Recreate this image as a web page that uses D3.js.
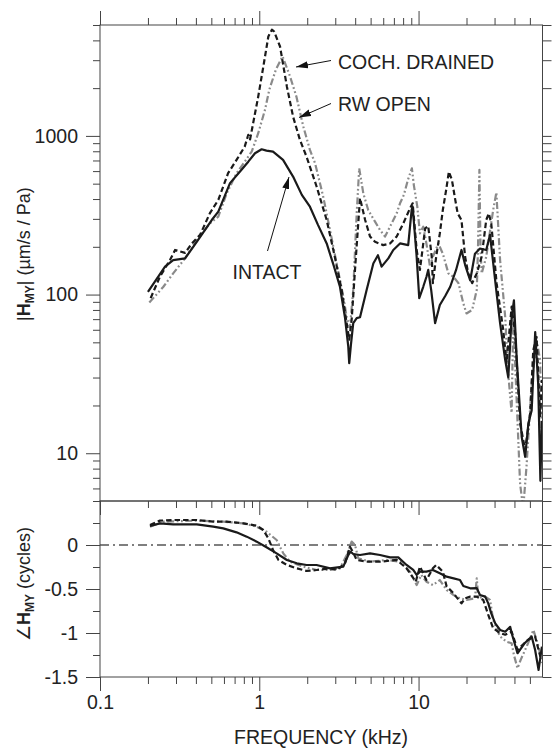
<!DOCTYPE html>
<html>
<head>
<meta charset="utf-8">
<script src="https://cdn.jsdelivr.net/npm/d3@7"></script>
<style>
  body { margin: 0; background: #fff; }
  svg { display: block; font-family: "Liberation Sans", Arial, sans-serif; }
</style>
</head>
<body>
<div id="chart"></div>
<script>
// Magnitude data: [frequency kHz, |H_MY| um/s/Pa]
const intactMag = [
  [0.2,104],[0.256,150],[0.288,165],[0.342,169],[0.405,215],[0.503,295],[0.553,333],[0.655,504],
  [0.757,596],[0.853,688],[0.94,778],[1.035,824],[1.11,808],[1.22,796],[1.41,706],[1.63,554],
  [1.85,425],[2.08,358],[2.34,274],[2.65,210],[2.94,151],[3.21,112],[3.45,72],[3.62,47],[3.67,37],
  [3.76,48],[3.89,66],[4.09,71],[4.29,72],[4.72,107],[5.2,157],[5.56,177],[5.86,150],[6.46,169],
  [6.94,191],[7.65,210],[8.61,205],[9.05,342],[9.18,359],[9.73,173],[10.1,95],[10.7,112],[11.2,129],
  [11.5,143],[12.0,107],[12.7,66],[13.6,86],[14.7,98],[15.8,112],[17.2,143],[18.6,191],[19.6,154],
  [21.1,123],[22.6,181],[24.3,195],[26.6,191],[28.1,238],[30.9,102],[32.5,66],[35,38.6],[36.6,30],
  [38.4,72],[39.7,92],[41.3,40],[44.4,12.7],[46.7,9.5],[48.9,15.4],[51.3,18.6],[54,58],[56.4,27],
  [58.2,6.7],[59.5,16]
];
const cochMag = [
  [0.208,95],[0.238,130],[0.275,165],[0.296,191],[0.318,187],[0.342,183],[0.377,210],[0.425,238],
  [0.49,326],[0.553,395],[0.637,582],[0.72,706],[0.81,856],[0.853,1015],[0.875,950],[0.985,1770],
  [1.06,2730],[1.14,4230],[1.2,4670],[1.24,4540],[1.35,3660],[1.49,2050],[1.63,1323],[1.8,944],
  [1.98,740],[2.29,480],[2.65,295],[2.98,173],[3.29,107],[3.49,72],[3.67,52],[3.8,69],[3.99,143],
  [4.29,405],[4.62,295],[4.96,232],[5.33,215],[6.0,205],[6.62,210],[7.29,232],[8.02,281],[8.84,350],
  [9.18,376],[9.73,191],[10.2,143],[11.0,261],[11.5,270],[12.1,173],[12.3,118],[12.9,173],[13.6,243],
  [14.2,341],[14.9,456],[15.5,595],[16.2,528],[17.0,395],[17.6,325],[18.6,295],[19.6,173],[20.5,136],
  [21.7,118],[23.2,136],[24.9,173],[26.6,295],[27.6,325],[28.6,281],[30.9,118],[34.0,60],[35.7,37],
  [38.4,84],[40.4,57],[43.4,15.4],[46.7,10.5],[50.2,17.9],[52.5,44.6],[55.1,54],[58,16.9],[59.5,29]
];
const rwMag = [
  [0.204,89],[0.25,112],[0.288,136],[0.342,169],[0.405,221],[0.49,281],[0.553,310],[0.624,434],
  [0.72,582],[0.81,688],[0.896,796],[0.985,1040],[1.086,1459],[1.155,1950],[1.27,2610],[1.4,3170],
  [1.56,2370],[1.71,1770],[1.89,1145],[2.08,816],[2.24,673],[2.52,414],[2.78,255],[3.06,157],
  [3.37,97],[3.54,72],[3.71,62],[3.89,107],[4.09,325],[4.24,625],[4.5,434],[4.83,341],[5.33,288],
  [5.73,255],[6.16,232],[6.62,268],[7.29,325],[7.65,376],[8.09,425],[8.57,528],[9.08,625],[9.34,490],
  [9.82,358],[10.2,243],[10.7,268],[11.2,210],[11.8,150],[12.3,173],[13.3,210],[14.2,181],[15.4,136],
  [16.6,129],[17.8,118],[19.1,88],[20.0,76],[21.7,80],[23.2,107],[23.6,191],[24.1,610],[24.5,191],
  [24.9,136],[26.6,173],[29.4,341],[30.8,440],[32.5,165],[35,72],[36.4,33.4],[38.4,18],[39.3,69],
  [40.8,29],[43.4,6.4],[45.4,4.5],[47.6,8.2],[51.3,27.5],[55.1,51.6],[58,38.6],[59.5,10.5]
];

// Phase data: [frequency kHz, cycles]
const intactPh = [
  [0.206,0.216],[0.238,0.246],[0.288,0.235],[0.405,0.235],[0.514,0.208],[0.594,0.189],[0.72,0.144],
  [0.834,0.095],[0.963,0.038],[1.11,-0.026],[1.285,-0.095],[1.49,-0.17],[1.72,-0.208],[1.98,-0.227],
  [2.29,-0.227],[2.78,-0.265],[3.37,-0.246],[3.62,-0.114],[3.74,-0.076],[3.89,-0.102],[4.29,-0.114],
  [4.96,-0.095],[5.73,-0.114],[6.62,-0.14],[7.46,-0.14],[8.41,-0.227],[9.26,-0.284],[9.73,-0.34],
  [10.2,-0.303],[11.2,-0.303],[12.3,-0.284],[13.6,-0.322],[15.0,-0.36],[16.6,-0.379],[18.2,-0.398],
  [19.1,-0.466],[21.1,-0.492],[23.2,-0.49],[24.3,-0.568],[26.2,-0.587],[27.4,-0.663],[28.6,-0.777],
  [30.3,-0.89],[32.5,-0.966],[35,-0.985],[37.6,-0.93],[38.4,-1.0],[41.8,-1.23],[46.3,-1.117],
  [51.3,-1.04],[53.9,-1.19],[56.7,-1.42],[59.5,-1.155]
];
const cochPh = [
  [0.206,0.227],[0.238,0.277],[0.288,0.284],[0.405,0.284],[0.514,0.265],[0.624,0.265],[0.794,0.246],
  [0.963,0.22],[1.06,0.17],[1.14,0.076],[1.22,-0.057],[1.32,-0.17],[1.49,-0.227],[1.72,-0.265],
  [1.98,-0.295],[2.29,-0.284],[2.78,-0.265],[3.06,-0.284],[3.45,-0.21],[3.71,-0.019],[3.87,-0.08],
  [4.09,-0.17],[4.72,-0.19],[5.73,-0.19],[7.29,-0.17],[8.41,-0.265],[9.6,-0.417],[10.2,-0.246],
  [11.2,-0.398],[12.3,-0.265],[12.9,-0.227],[14.2,-0.303],[15.0,-0.47],[16.6,-0.549],[17.2,-0.587],
  [18.6,-0.663],[19.6,-0.606],[21.1,-0.587],[23.2,-0.587],[25.5,-0.625],[27.4,-0.795],[29.4,-0.947],
  [32.5,-1.0],[35,-1.02],[38.4,-0.985],[41.8,-1.19],[48.5,-1.08],[53.9,-1.04],[58.2,-1.27]
];
const rwPh = [
  [0.206,0.208],[0.25,0.265],[0.405,0.277],[0.594,0.265],[0.794,0.246],[0.963,0.208],[1.11,0.151],
  [1.285,0.057],[1.415,-0.095],[1.56,-0.19],[1.89,-0.246],[2.29,-0.284],[2.78,-0.284],[3.21,-0.265],
  [3.54,-0.114],[3.8,0.038],[3.99,0.0],[4.18,-0.15],[4.96,-0.19],[6.3,-0.17],[7.65,-0.19],
  [8.84,-0.303],[9.73,-0.455],[10.4,-0.34],[11.2,-0.417],[12.3,-0.455],[13.6,-0.398],[15.0,-0.511],
  [16.6,-0.568],[18.2,-0.606],[20.0,-0.625],[22.6,-0.606],[23.2,-0.379],[23.7,-0.6],[26.2,-0.587],
  [28.1,-0.625],[29.4,-0.852],[32.5,-1.04],[35.7,-1.1],[38.4,-1.117],[39.7,-1.25],[41.8,-1.4],
  [43.9,-1.3],[48.6,-1.12],[52.6,-0.966],[56.7,-1.155],[59.5,-1.34]
];

const xMajor = [0.1, 1, 10];
const magMajor = [10, 100, 1000];
const phMajor = [-1.5, -1, -0.5, 0];
const phMinor = [-1.25, -0.75, -0.25, 0.25];

const width = 552;
const height = 749;
const ink = "#222";
const frame = "#444";
const fontSize = "19.5px";

const svg = d3.select("#chart")
  .append("svg")
  .attr("width", width)
  .attr("height", height);

const x = d3.scaleLog().domain([0.1, 60]).range([100, 542.5]);
const yMag = d3.scaleLog().domain([5, 5000]).range([501, 25]);
const yPh = d3.scaleLinear().domain([-1.5, 0.5]).range([677, 501]);

const xMinor = [0.1, 1, 10].flatMap(d => d3.range(2, 10).map(k => d * k)).filter(v => v < 60);
const magMinor = [1, 10, 100, 1000].flatMap(d => d3.range(2, 10).map(k => d * k)).filter(v => v >= 5 && v <= 5000);

function addAxis(transform, gen) {
  const g = svg.append("g").attr("transform", transform).call(gen);
  g.select(".domain").remove();
  g.selectAll("line").attr("stroke", frame);
  g.selectAll("text").attr("fill", ink).style("font-size", fontSize).style("font-family", "'Liberation Sans', Arial, sans-serif");
  return g;
}
const fmt = d => String(d);

// top panel axes
addAxis("translate(100,0)", d3.axisLeft(yMag).tickValues(magMajor).tickSize(14).tickPadding(8).tickFormat(fmt));
addAxis("translate(100,0)", d3.axisLeft(yMag).tickValues(magMinor).tickSize(7).tickFormat(""));
addAxis("translate(542.5,0)", d3.axisRight(yMag).tickValues(magMajor.concat(magMinor)).tickSize(9).tickFormat(""));
addAxis("translate(0,25)", d3.axisTop(x).tickValues(xMajor).tickSize(14).tickFormat(""));
addAxis("translate(0,25)", d3.axisTop(x).tickValues(xMinor).tickSize(7).tickFormat(""));

// bottom panel axes
addAxis("translate(0,501)", d3.axisBottom(x).tickValues(xMajor).tickSize(14).tickFormat(""));
addAxis("translate(0,501)", d3.axisBottom(x).tickValues(xMinor).tickSize(7).tickFormat(""));
addAxis("translate(0,677)", d3.axisBottom(x).tickValues(xMajor).tickSize(14).tickPadding(4).tickFormat(fmt));
addAxis("translate(0,677)", d3.axisBottom(x).tickValues(xMinor).tickSize(7).tickFormat(""));
addAxis("translate(100,0)", d3.axisLeft(yPh).tickValues(phMajor).tickSize(14).tickPadding(8).tickFormat(fmt));
addAxis("translate(100,0)", d3.axisLeft(yPh).tickValues(phMinor).tickSize(7).tickFormat(""));
addAxis("translate(542.5,0)", d3.axisRight(yPh).tickValues(phMajor.concat(phMinor)).tickSize(9).tickFormat(""));

// clip paths
const defs = svg.append("defs");
defs.append("clipPath").attr("id", "clipMag").append("rect")
  .attr("x", 100).attr("y", 25).attr("width", 442.5).attr("height", 476);
defs.append("clipPath").attr("id", "clipPh").append("rect")
  .attr("x", 100).attr("y", 501).attr("width", 442.5).attr("height", 176);
defs.append("marker")
  .attr("id", "arrow")
  .attr("markerUnits", "userSpaceOnUse")
  .attr("viewBox", "0 -4 12 8")
  .attr("refX", 12).attr("refY", 0)
  .attr("markerWidth", 12).attr("markerHeight", 8)
  .attr("orient", "auto")
  .append("path").attr("d", "M0,-3.5L12,0L0,3.5Z").attr("fill", "#111");

const styles = [
  { name: "rw", stroke: "#8a8a8a", dash: "7,2.5,1.8,2.5,1.8,2.5" },
  { name: "coch", stroke: "#1a1a1a", dash: "5.5,3" },
  { name: "intact", stroke: "#1a1a1a", dash: null }
];
const magSeries = { intact: intactMag, coch: cochMag, rw: rwMag };
const phSeries = { intact: intactPh, coch: cochPh, rw: rwPh };

const magLine = d3.line().x(d => x(d[0])).y(d => yMag(Math.max(d[1], 3)));
const phLine = d3.line().x(d => x(d[0])).y(d => yPh(d[1]));

const gMag = svg.append("g").attr("clip-path", "url(#clipMag)");
const gPh = svg.append("g").attr("clip-path", "url(#clipPh)");

// zero reference line
gPh.append("line")
  .attr("x1", 100).attr("x2", 542.5)
  .attr("y1", yPh(0)).attr("y2", yPh(0))
  .attr("stroke", "#000").attr("stroke-width", 1.2)
  .attr("stroke-dasharray", "9,4,2,4");

styles.forEach(s => {
  gMag.append("path")
    .attr("d", magLine(magSeries[s.name]))
    .attr("fill", "none")
    .attr("stroke", s.stroke)
    .attr("stroke-width", 2.2)
    .attr("stroke-linejoin", "round")
    .attr("stroke-dasharray", s.dash);
  gPh.append("path")
    .attr("d", phLine(phSeries[s.name]))
    .attr("fill", "none")
    .attr("stroke", s.stroke)
    .attr("stroke-width", 2.2)
    .attr("stroke-linejoin", "round")
    .attr("stroke-dasharray", s.dash);
});

// frames
[[25, 501], [501, 677]].forEach(([t, b]) => {
  svg.append("rect")
    .attr("x", 100).attr("y", t)
    .attr("width", 442.5).attr("height", b - t)
    .attr("fill", "none").attr("stroke", frame).attr("stroke-width", 1);
});

// annotations
const notes = [
  { text: "COCH. DRAINED", x: 338, y: 69, anchor: "start", from: [331, 60.5], to: [296, 67] },
  { text: "RW OPEN", x: 338, y: 111, anchor: "start", from: [331, 103.5], to: [299, 117.5] },
  { text: "INTACT", x: 267, y: 279, anchor: "middle", from: [267.5, 251], to: [289, 177] }
];
notes.forEach(n => {
  svg.append("text")
    .attr("x", n.x).attr("y", n.y)
    .attr("text-anchor", n.anchor)
    .attr("fill", ink)
    .style("font-size", fontSize)
    .text(n.text);
  svg.append("line")
    .attr("x1", n.from[0]).attr("y1", n.from[1])
    .attr("x2", n.to[0]).attr("y2", n.to[1])
    .attr("stroke", "#111").attr("stroke-width", 1)
    .attr("marker-end", "url(#arrow)");
});

// axis titles
svg.append("text")
  .attr("x", 321).attr("y", 744)
  .attr("text-anchor", "middle")
  .attr("fill", ink)
  .style("font-size", fontSize)
  .text("FREQUENCY (kHz)");

function yTitle(cx, cy, pre, post) {
  const t = svg.append("text")
    .attr("transform", `translate(${cx},${cy}) rotate(-90)`)
    .attr("text-anchor", "middle")
    .attr("fill", ink)
    .style("font-size", "18px");
  t.append("tspan").text(pre);
  t.append("tspan").attr("font-weight", "bold").text("H");
  t.append("tspan").attr("font-weight", "bold").style("font-size", "12px").attr("dy", 4).text("MY");
  t.append("tspan").attr("dy", -4).text(post);
}
yTitle(30, 254, "|", "| (\u00b5m/s / Pa)");
yTitle(30, 584, "\u2220", " (cycles)");
</script>
</body>
</html>
